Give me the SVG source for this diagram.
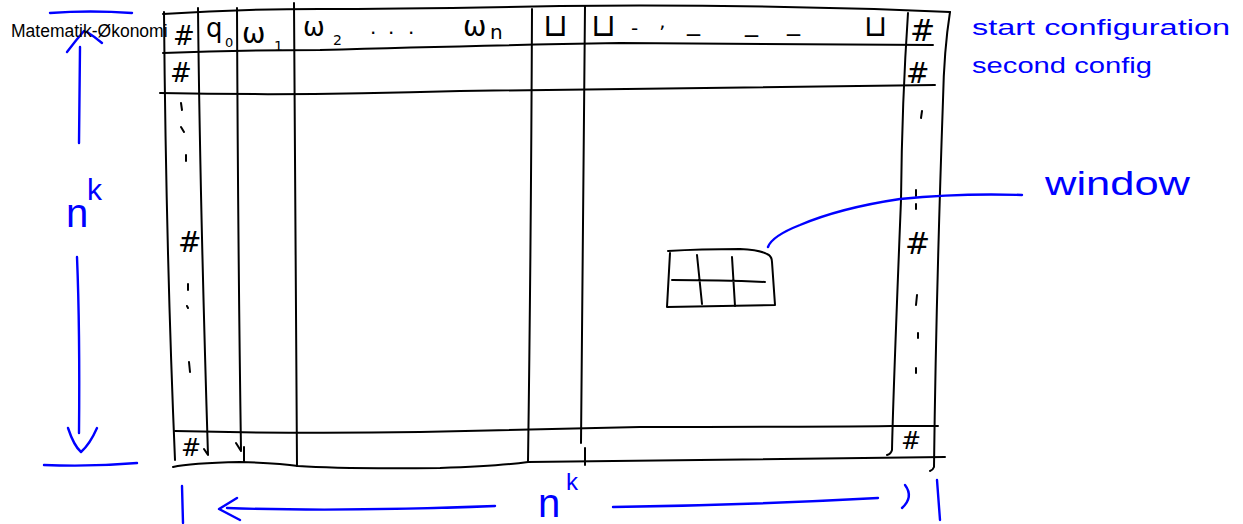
<svg xmlns="http://www.w3.org/2000/svg" width="1243" height="524" viewBox="0 0 1243 524">
<style>
.ink{fill:none;stroke:#000;stroke-width:2;stroke-linecap:round;stroke-linejoin:round}
.blue{fill:none;stroke:#0000ff;stroke-width:2.4;stroke-linecap:round;stroke-linejoin:round}
.hw{font-family:"DejaVu Sans","Liberation Sans",sans-serif;fill:#000}
.bt{font-family:"Liberation Sans","DejaVu Sans",sans-serif;fill:#0000ff}
.title{font-family:"Liberation Sans",Arial,sans-serif;font-size:17.5px;fill:#000}
</style>
<rect width="1243" height="524" fill="#fff"/>

<g id="tape-table">
  <path class="ink" d="M163,14 Q240,9 320,9 T560,6 Q760,4 950,12"/>
  <path class="ink" d="M164,12 Q166,250 175,460"/>
  <path class="ink" d="M950,12 Q944,50 943,100 Q936,300 934,467 Q933,470 930,471"/>
  <path class="ink" d="M163,53 Q240,50 320,50 Q450,46 620,43 Q800,44 933,45"/>
  <path class="ink" d="M160,93 Q300,96 460,91 Q700,87 935,85"/>
  <path class="ink" d="M175,431 Q300,434 420,432 Q528,430 640,427 Q800,427 892,426 L938,426"/>
  <path class="ink" d="M173,467 Q190,463 240,462 Q280,463 298,466 Q340,469 440,468 Q500,466 528,462 Q700,460 945,457"/>
  <path class="ink" d="M198,8 Q200,200 208,455 L204,449"/>
  <path class="ink" d="M237,8 Q238,250 241,450 M236,443 L241,451 M244,447 L244,462"/>
  <path class="ink" d="M294,3 Q296,250 297,466"/>
  <path class="ink" d="M532,9 Q531,250 528,462"/>
  <path class="ink" d="M585,6 Q583,250 581,443 M585,448 L585,465"/>
  <path class="ink" d="M908,13 Q902,100 901,200 Q893,400 892,450 Q891,454 887,455"/>

  <text class="hw" x="173" y="45" font-size="26">#</text>
  <text class="hw" x="206" y="37" font-size="26">q</text>
  <text class="hw" x="225" y="47" font-size="13">0</text>
  <text class="hw" x="242" y="43" font-size="28">ω</text>
  <text class="hw" x="274" y="51" font-size="14">1</text>
  <text class="hw" x="303" y="36" font-size="26">ω</text>
  <text class="hw" x="333" y="45" font-size="14">2</text>
  <text class="hw" x="370 388 408" y="34" font-size="20">...</text>
  <text class="hw" x="463" y="36" font-size="28">ω</text>
  <text class="hw" x="490" y="39" font-size="20">n</text>
  <text class="hw" x="543" y="36" font-size="32">⊔</text>
  <text class="hw" x="591" y="36" font-size="32">⊔</text>
  <text class="hw" x="631" y="35" font-size="20">-</text>
  <text class="hw" x="659" y="40" font-size="20">ʼ</text>
  <text class="hw" x="687" y="30" font-size="26">_</text>
  <text class="hw" x="745" y="31" font-size="26">_</text>
  <text class="hw" x="787" y="30" font-size="26">_</text>
  <text class="hw" x="864" y="36" font-size="30">⊔</text>
  <text class="hw" x="910" y="41" font-size="30">#</text>
  <text class="hw" x="170" y="82" font-size="26">#</text>
  <text class="hw" x="906" y="83" font-size="28">#</text>
  <text class="hw" x="178" y="252" font-size="28">#</text>
  <text class="hw" x="905" y="254" font-size="30">#</text>
  <text class="hw" x="181" y="456" font-size="24">#</text>
  <text class="hw" x="901" y="449" font-size="24">#</text>

  <path class="ink" d="M181,103 L182,110 M181,127 L184,132 M186,155 L186,161 M188,284 L188,290 M187,306 L188,308 M189,362 L190,372"/>
  <path class="ink" d="M922,111 L921,118 M916,190 L916,196 M916,204 L916,209 M917,295 L916,305 M918,333 L918,338 M916,368 L916,373"/>
</g>

<g id="window">
  <path class="ink" d="M668,251 Q700,249 740,249 Q760,250 767,254 Q772,256 772,262 L775,305 L667,307 L670,253"/>
  <path class="ink" d="M697,255 L702,304 M732,257 L735,306 M672,280 Q720,280 765,282"/>
</g>

<g id="connectors">
  <path class="blue" d="M768,247 Q772,236 800,225 Q840,208 900,199 Q960,193 1022,195"/>
  <path class="blue" d="M50,13 Q90,10 132,13"/>
  <path class="blue" d="M67,52 Q76,40 84,31 M87,32 Q95,37 102,43"/>
  <path class="blue" d="M80,47 L79,143"/>
  <path class="blue" d="M77,257 Q80,330 79,433"/>
  <path class="blue" d="M68,428 Q74,446 81,452 Q90,444 97,428"/>
  <path class="blue" d="M44,465 Q90,467 137,463"/>
  <path class="blue" d="M182,486 L183,523"/>
  <path class="blue" d="M237,498 L219,509 L240,520"/>
  <path class="blue" d="M227,508 Q340,512 495,506"/>
  <path class="blue" d="M613,507 Q750,505 878,498"/>
  <path class="blue" d="M905,485 Q914,497 902,508"/>
  <path class="blue" d="M937,480 L940,520"/>
</g>

<g id="labels">
  <text class="bt" x="972" y="35" font-size="22" textLength="258" lengthAdjust="spacingAndGlyphs">start configuration</text>
  <text class="bt" x="972" y="73" font-size="22" textLength="180" lengthAdjust="spacingAndGlyphs">second config</text>
  <text class="bt" x="1045" y="195" font-size="34" textLength="145" lengthAdjust="spacingAndGlyphs">window</text>
  <text class="bt" x="66" y="227" font-size="40">n</text>
  <text class="bt" x="87" y="200" font-size="30">k</text>
  <text class="bt" x="538" y="517" font-size="40">n</text>
  <text class="bt" x="566" y="490" font-size="24">k</text>
</g>

<g id="title">
  <text class="title" x="11" y="37">Matematik-Økonomi</text>
</g>
</svg>
